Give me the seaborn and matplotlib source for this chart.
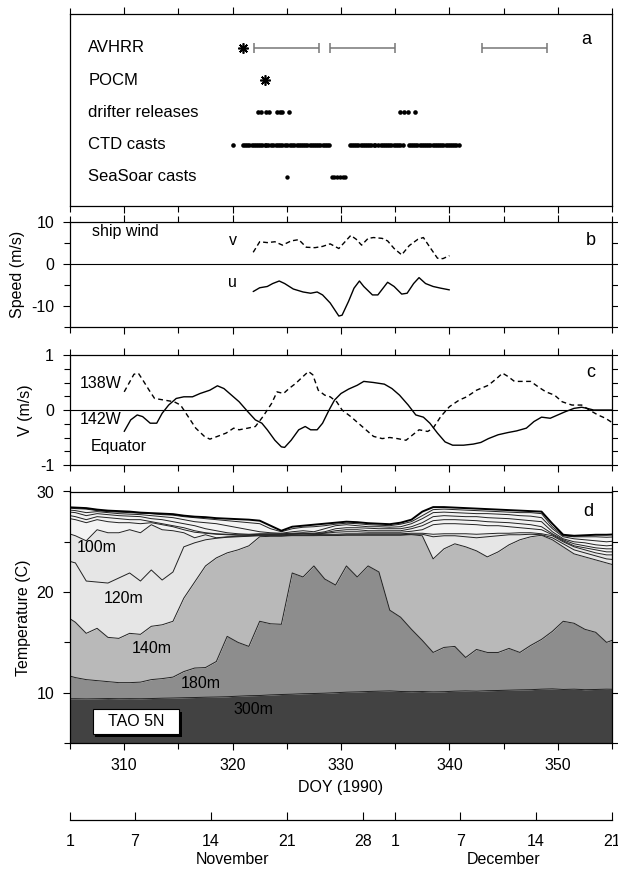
import numpy as np
import matplotlib
matplotlib.use("Agg")
import matplotlib.pyplot as plt
import seaborn as sns
from matplotlib.patches import Rectangle
from matplotlib.ticker import MultipleLocator, FixedLocator

sns.set_theme(style="ticks")
plt.rcParams['font.family'] = ['Liberation Sans', 'DejaVu Sans']
plt.rcParams['font.size'] = 11.5
plt.rcParams['axes.unicode_minus'] = False
for key in ("text.color", "axes.labelcolor", "xtick.color", "ytick.color",
            "xtick.labelcolor", "ytick.labelcolor", "axes.edgecolor"):
    plt.rcParams[key] = "black"

# ---------------- panel a: observation timeline ----------------
rows = ["AVHRR", "POCM", "drifter releases", "CTD casts", "SeaSoar casts"]
avhrr_star = [321.0]
avhrr_start = [322.0, 329.0, 343.0]
avhrr_end = [328.0, 335.0, 349.0]
pocm_star = [323.0]
drifter_doy = [322.3, 322.6, 323.1, 323.35, 324.1, 324.35, 324.6, 325.2,
               335.45, 335.8, 336.15, 336.85]
ctd_doy = [320.0,
           320.95, 321.15, 321.35, 321.55, 321.75, 321.95, 322.15, 322.35, 322.55, 322.75, 322.96,
           323.1, 323.3, 323.5, 323.7,
           324.0, 324.2, 324.4, 324.6, 324.8, 325.05,
           325.3, 325.5, 325.7, 325.9, 326.1, 326.3, 326.5, 326.7, 326.9, 327.1, 327.3, 327.5,
           327.7, 327.9, 328.1, 328.3, 328.5, 328.7, 328.9,
           330.8, 331.0, 331.2, 331.4, 331.6, 331.8, 332.0, 332.2, 332.4, 332.6, 332.8, 333.0, 333.15,
           333.45, 333.65, 333.85, 334.05, 334.25, 334.45, 334.65, 334.85, 335.05, 335.25, 335.45, 335.75,
           336.25, 336.45, 336.65, 336.85, 337.05, 337.25, 337.45, 337.65, 337.85, 338.05, 338.25,
           338.45, 338.65, 338.85, 339.05, 339.25, 339.45, 339.65, 339.85, 340.05, 340.25, 340.45,
           340.65, 340.85]
seasoar_doy = [325.0, 329.15, 329.4, 329.65, 329.9, 330.15, 330.4]

# ---------------- panel b: ship wind ----------------
v_doy = [321.9, 322.5, 323.2, 323.9, 324.6, 325.4, 326.1, 326.8, 327.6, 328.3, 329.0, 329.8,
         330.3, 330.9, 331.4, 331.9, 332.5, 333.0, 333.8, 334.3, 334.9, 335.6, 336.3, 337.1,
         337.6, 338.2, 338.9, 339.4, 340.0]
v_speed = [2.7, 5.2, 5.0, 5.2, 4.4, 5.4, 5.7, 3.9, 3.8, 4.1, 4.7, 3.6, 5.0, 6.7, 5.8, 4.4,
           6.0, 6.2, 6.0, 5.4, 3.6, 2.1, 4.3, 5.8, 6.2, 3.9, 1.3, 1.2, 1.9]
u_doy = [321.9, 322.5, 323.2, 323.7, 324.3, 324.8, 325.6, 326.5, 327.2, 327.8, 328.3, 329.0,
         329.8, 330.1, 330.7, 331.2, 331.7, 332.1, 332.9, 333.4, 334.0, 334.3, 334.9, 335.6,
         336.1, 336.7, 337.2, 337.8, 338.5, 339.2, 340.0]
u_speed = [-6.6, -5.7, -5.4, -4.7, -4.1, -4.7, -6.0, -6.7, -7.0, -6.7, -7.4, -9.3, -12.4,
           -12.2, -8.9, -5.8, -4.1, -5.4, -7.4, -7.4, -5.4, -4.4, -5.4, -7.2, -7.0, -4.7,
           -3.3, -4.7, -5.4, -5.8, -6.2]

# ---------------- panel c: equatorial meridional velocity ----------------
c138_doy = [310.0, 310.9, 311.3, 311.7, 312.3, 312.8, 313.7, 314.6, 315.2, 315.9,
            316.6, 317.4, 317.9, 318.6, 319.4, 320.1, 320.6, 321.4, 322.1, 322.8,
            323.6, 324.1, 324.7, 325.2, 325.8, 326.5, 327.0, 327.4, 327.9, 328.5,
            329.0, 329.6, 330.1, 330.9, 331.6, 332.3, 333.0, 333.8, 334.5, 335.2,
            336.0, 336.5, 337.2, 338.0, 338.5, 339.2, 340.0, 340.9, 341.6, 342.5,
            343.6, 344.4, 344.9, 345.4, 346.0, 346.9, 347.5, 348.2, 348.9, 349.7,
            350.4, 351.3, 352.2, 352.9, 353.7, 354.4, 355.1]
c138_v = [0.33, 0.65, 0.67, 0.55, 0.36, 0.21, 0.18, 0.15, 0.09, -0.12,
          -0.33, -0.48, -0.53, -0.48, -0.42, -0.33, -0.36, -0.33, -0.30, -0.12,
          0.12, 0.33, 0.30, 0.39, 0.48, 0.61, 0.70, 0.64, 0.36, 0.27,
          0.24, 0.15, 0.0, -0.12, -0.24, -0.36, -0.48, -0.52, -0.50, -0.52,
          -0.55, -0.47, -0.36, -0.39, -0.33, -0.12, 0.06, 0.18, 0.24, 0.36,
          0.45, 0.58, 0.67, 0.61, 0.52, 0.52, 0.52, 0.42, 0.33, 0.27,
          0.15, 0.09, 0.09, 0.0, -0.09, -0.15, -0.24]
c142_doy = [310.0, 310.6, 311.2, 311.7, 312.4, 313.0, 313.5, 314.1, 314.8, 315.5,
            316.3, 317.0, 317.9, 318.6, 319.2, 319.9, 320.6, 321.4, 322.1, 322.7,
            323.2, 323.9, 324.5, 324.8, 325.4, 326.1, 326.7, 327.2, 327.8, 328.3,
            328.9, 329.4, 330.0, 330.7, 331.5, 332.1, 333.0, 334.0, 334.7, 335.4,
            336.2, 336.9, 337.6, 338.2, 338.9, 339.6, 340.3, 341.3, 342.2, 342.9,
            343.6, 344.5, 345.4, 346.2, 347.1, 347.8, 348.5, 349.3, 350.0, 350.7,
            351.5, 352.2, 352.7, 353.3, 354.2, 355.1]
c142_v = [-0.39, -0.18, -0.09, -0.12, -0.24, -0.24, -0.06, 0.09, 0.21, 0.24,
          0.24, 0.30, 0.36, 0.44, 0.39, 0.27, 0.15, -0.03, -0.18, -0.24,
          -0.36, -0.55, -0.67, -0.68, -0.55, -0.36, -0.30, -0.36, -0.36, -0.24,
          0.0, 0.18, 0.30, 0.38, 0.45, 0.52, 0.50, 0.47, 0.39, 0.27,
          0.09, -0.09, -0.13, -0.24, -0.42, -0.58, -0.64, -0.64, -0.62, -0.59,
          -0.52, -0.45, -0.41, -0.38, -0.33, -0.21, -0.13, -0.15, -0.09, -0.03,
          0.03, 0.05, 0.03, 0.0, 0.0, 0.0]

# ---------------- panel d: TAO 5N daily temperatures ----------------
tao_doy = np.arange(304.5, 356.0, 1.0)   # daily means, centred at noon
t001 = [28.45, 28.40, 28.35, 28.20, 28.10, 28.05, 28.00, 27.90, 27.85, 27.80, 27.75,
        27.60, 27.50, 27.45, 27.35, 27.30, 27.25, 27.20, 27.10, 26.60, 26.10,
        26.50, 26.60, 26.70, 26.80, 26.90, 27.00, 26.95, 26.85, 26.80, 26.75,
        26.90, 27.20, 28.00, 28.45, 28.45, 28.40, 28.35, 28.30, 28.25, 28.20,
        28.15, 28.10, 28.05, 28.00, 26.80, 25.70, 25.60, 25.65, 25.70, 25.70, 25.75]
t010 = [28.40, 28.30, 28.25, 28.10, 28.00, 27.95, 27.90, 27.85, 27.80, 27.70, 27.65,
        27.50, 27.40, 27.30, 27.20, 27.10, 27.00, 26.90, 26.80, 26.30, 26.00,
        26.30, 26.45, 26.50, 26.60, 26.75, 26.85, 26.80, 26.70, 26.65, 26.60,
        26.75, 27.00, 27.60, 28.20, 28.25, 28.20, 28.15, 28.10, 28.05, 28.00,
        27.95, 27.90, 27.90, 27.80, 26.50, 25.60, 25.50, 25.50, 25.50, 25.45, 25.50]
t025 = [28.20, 28.10, 27.90, 28.00, 27.90, 27.80, 27.75, 27.70, 27.60, 27.50, 27.40,
        27.20, 27.00, 26.90, 26.80, 26.60, 26.40, 26.20, 26.00, 25.90, 25.85,
        26.00, 26.10, 26.00, 26.30, 26.60, 26.70, 26.60, 26.50, 26.50, 26.45,
        26.50, 26.80, 27.30, 27.90, 27.95, 27.90, 27.85, 27.80, 27.80, 27.75,
        27.70, 27.60, 27.55, 27.40, 26.30, 25.50, 25.30, 25.20, 25.10, 25.00, 25.10]
t045 = [28.00, 27.90, 27.60, 27.80, 27.70, 27.60, 27.55, 27.50, 27.30, 27.20, 27.00,
        26.80, 26.60, 26.30, 26.10, 25.90, 25.80, 25.75, 25.80, 25.80, 25.80,
        25.85, 25.90, 25.85, 26.00, 26.30, 26.40, 26.40, 26.35, 26.30, 26.30,
        26.30, 26.50, 26.90, 27.50, 27.60, 27.55, 27.50, 27.50, 27.40, 27.35,
        27.30, 27.20, 27.10, 27.00, 26.00, 25.30, 25.00, 24.90, 24.70, 24.60, 24.70]
t060 = [27.70, 27.50, 27.20, 27.50, 27.40, 27.30, 27.20, 27.20, 27.00, 26.80, 26.60,
        26.40, 26.10, 25.90, 25.80, 25.75, 25.70, 25.70, 25.75, 25.75, 25.75,
        25.80, 25.85, 25.80, 25.90, 26.10, 26.20, 26.20, 26.10, 26.10, 26.10,
        26.10, 26.30, 26.60, 27.10, 27.20, 27.20, 27.15, 27.10, 27.00, 26.95,
        26.90, 26.80, 26.70, 26.50, 25.80, 25.20, 24.80, 24.60, 24.40, 24.30, 24.30]
t080 = [27.40, 27.20, 26.90, 27.20, 27.00, 26.90, 26.90, 26.80, 26.90, 26.70, 26.50,
        26.20, 25.95, 25.85, 25.75, 25.70, 25.65, 25.65, 25.70, 25.70, 25.70,
        25.75, 25.80, 25.75, 25.85, 25.95, 26.00, 26.00, 25.95, 25.95, 25.95,
        25.95, 26.05, 26.20, 26.70, 26.80, 26.80, 26.75, 26.70, 26.60, 26.60,
        26.50, 26.40, 26.30, 26.20, 25.70, 25.10, 24.60, 24.40, 24.20, 24.00, 24.00]
t100 = [25.95, 25.60, 25.10, 26.20, 25.90, 25.90, 26.20, 25.90, 26.70, 26.20, 26.10,
        25.90, 25.40, 25.70, 25.40, 25.50, 25.55, 25.60, 25.65, 25.65, 25.65,
        25.70, 25.70, 25.70, 25.75, 25.75, 25.80, 25.80, 25.80, 25.80, 25.80,
        25.80, 25.85, 25.85, 25.75, 25.80, 25.80, 25.80, 25.75, 25.80, 25.85,
        25.85, 25.90, 25.90, 25.80, 25.60, 25.00, 24.50, 24.20, 23.90, 23.70, 23.70]
t120 = [23.20, 22.90, 21.10, 21.00, 20.90, 21.40, 21.90, 21.10, 22.20, 21.20, 22.00,
        24.50, 24.90, 25.20, 25.35, 25.45, 25.50, 25.55, 25.60, 25.60, 25.60,
        25.65, 25.65, 25.65, 25.68, 25.68, 25.70, 25.70, 25.70, 25.70, 25.70,
        25.70, 25.75, 25.75, 25.50, 25.60, 25.60, 25.50, 25.40, 25.50, 25.60,
        25.70, 25.70, 25.75, 25.70, 25.40, 24.80, 24.20, 23.90, 23.60, 23.30, 23.20]
t140 = [17.70, 17.00, 15.90, 16.40, 15.50, 15.40, 15.90, 15.80, 16.60, 16.75, 17.10,
        19.40, 21.00, 22.60, 23.40, 23.90, 24.20, 24.60, 25.50, 25.55, 25.55,
        25.60, 25.60, 25.60, 25.62, 25.62, 25.65, 25.65, 25.65, 25.65, 25.65,
        25.65, 25.70, 25.60, 23.30, 24.30, 24.80, 24.50, 24.10, 23.50, 24.00,
        24.70, 25.20, 25.50, 25.65, 25.20, 24.50, 23.80, 23.50, 23.20, 22.90, 22.60]
t180 = [11.80, 11.50, 11.30, 11.20, 11.10, 11.00, 11.00, 11.05, 11.30, 11.40, 11.55,
        12.10, 12.45, 12.50, 13.10, 15.60, 15.00, 14.60, 17.10, 16.85, 16.80,
        21.90, 21.50, 22.60, 21.30, 20.70, 22.60, 21.50, 22.60, 22.00, 18.20,
        17.50, 16.30, 15.20, 14.00, 14.50, 14.60, 13.50, 14.30, 14.00, 14.00,
        14.40, 14.00, 14.70, 15.30, 16.10, 17.10, 16.90, 16.30, 16.00, 15.00, 15.40]
t300 = [9.40, 9.40, 9.38, 9.40, 9.42, 9.40, 9.41, 9.40, 9.42, 9.45, 9.47,
        9.50, 9.52, 9.55, 9.57, 9.60, 9.65, 9.70, 9.72, 9.78, 9.82,
        9.85, 9.90, 9.92, 9.95, 10.00, 10.05, 10.08, 10.12, 10.15, 10.18,
        10.12, 10.10, 10.12, 10.08, 10.10, 10.15, 10.18, 10.15, 10.20, 10.22,
        10.25, 10.28, 10.30, 10.35, 10.38, 10.32, 10.35, 10.30, 10.32, 10.35, 10.33]

depth_labels = ["100m", "120m", "140m", "180m", "300m"]

# calendar axis
date_doy = [305, 311, 318, 325, 332, 335, 341, 348, 355]
date_lab = ["1", "7", "14", "21", "28", "1", "7", "14", "21"]

# ---------------- figure ----------------
W, H = 618, 869
fig = plt.figure(figsize=(W / 100, H / 100), dpi=100)
fig.patch.set_facecolor("white")
L, Wd = 70 / W, 542 / W


def box(top, bottom):
    return [L, 1 - bottom / H, Wd, (bottom - top) / H]


ax_a = fig.add_axes(box(14, 206))
ax_b = fig.add_axes(box(221.5, 327))
ax_c = fig.add_axes(box(355, 465))
ax_d = fig.add_axes(box(491.5, 743))

for ax in (ax_a, ax_b, ax_c, ax_d):
    ax.set_facecolor("white")
    ax.set_xlim(305, 355)
    for s in ax.spines.values():
        s.set_visible(True)
        s.set_color("black")
        s.set_linewidth(0.9)
    ax.xaxis.set_major_locator(MultipleLocator(10))
    ax.xaxis.set_minor_locator(MultipleLocator(5))
    ax.tick_params(which="both", direction="out", top=True, right=True,
                   width=0.8, colors="black", labelsize=11.5)
    ax.tick_params(which="major", length=5)
    ax.tick_params(which="minor", length=4)
    ax.tick_params(axis="y", which="major", pad=6.5)
    ax.tick_params(axis="x", which="major", pad=6)
    ax.grid(False)

for ax in (ax_a, ax_b, ax_c):
    ax.tick_params(labelbottom=False)

# ---- a ----
ax_a.set_ylim(0.1, 6.05)
ax_a.tick_params(axis="y", which="both", left=False, right=False, labelleft=False)
yrow = {r: 5 - i for i, r in enumerate(rows)}
for r in rows:
    ax_a.text(306.7, yrow[r], r, ha="left", va="center", fontsize=12, color="black")
ax_a.hlines([yrow["AVHRR"]] * 3, avhrr_start, avhrr_end, color="#777777", lw=1.1)
ax_a.plot(avhrr_start + avhrr_end, [yrow["AVHRR"]] * 6, ls="none", marker="|",
          ms=7, mew=1.1, color="#777777")
ax_a.plot(avhrr_star, [yrow["AVHRR"]], ls="none", marker=(8, 2, 0), ms=7.5, mew=1.2, color="black")
ax_a.plot(pocm_star, [yrow["POCM"]], ls="none", marker=(8, 2, 0), ms=7.5, mew=1.2, color="black")
sns.scatterplot(x=drifter_doy, y=[yrow["drifter releases"]] * len(drifter_doy), ax=ax_a,
                color="black", s=11, linewidth=0, marker="o")
sns.scatterplot(x=ctd_doy, y=[yrow["CTD casts"]] * len(ctd_doy), ax=ax_a,
                color="black", s=11, linewidth=0, marker="o")
sns.scatterplot(x=seasoar_doy, y=[yrow["SeaSoar casts"]] * len(seasoar_doy), ax=ax_a,
                color="black", s=10, linewidth=0, marker="o")
ax_a.text(352.6, 5.25, "a", ha="center", va="center", fontsize=13)

# ---- b ----
ax_b.set_ylim(-15, 10)
ax_b.yaxis.set_major_locator(FixedLocator([-10, 0, 10]))
ax_b.yaxis.set_minor_locator(MultipleLocator(5))
ax_b.axhline(0, color="black", lw=0.8)
sns.lineplot(x=v_doy, y=v_speed, ax=ax_b, color="black", lw=1.0,
             linestyle=(0, (3.5, 2.2)), errorbar=None)
sns.lineplot(x=u_doy, y=u_speed, ax=ax_b, color="black", lw=1.0, errorbar=None)
ax_b.text(307.0, 7.6, "ship wind", ha="left", va="center", fontsize=11.5)
ax_b.text(320.0, 5.6, "v", ha="center", va="center", fontsize=11.5)
ax_b.text(320.0, -4.4, "u", ha="center", va="center", fontsize=11.5)
ax_b.text(353.0, 5.6, "b", ha="center", va="center", fontsize=13)
ax_b.set_ylabel("Speed (m/s)", fontsize=11.5)
ax_b.yaxis.set_label_coords((25 - 70) / 542, 0.5)

# ---- c ----
ax_c.set_ylim(-1, 1)
ax_c.yaxis.set_major_locator(FixedLocator([-1, 0, 1]))
ax_c.yaxis.set_minor_locator(MultipleLocator(0.25))
ax_c.set_yticklabels(["-1", "0", "1"])
ax_c.axhline(0, color="black", lw=0.8)
sns.lineplot(x=c138_doy, y=c138_v, ax=ax_c, color="black", lw=1.0,
             linestyle=(0, (3.5, 2.5)), errorbar=None)
sns.lineplot(x=c142_doy, y=c142_v, ax=ax_c, color="black", lw=1.0, errorbar=None)
ax_c.text(305.9, 0.48, "138W", ha="left", va="center", fontsize=11.5)
ax_c.text(305.9, -0.18, "142W", ha="left", va="center", fontsize=11.5)
ax_c.text(306.9, -0.66, "Equator", ha="left", va="center", fontsize=11.5)
ax_c.text(353.0, 0.68, "c", ha="center", va="center", fontsize=13)
ax_c.set_ylabel("V (m/s)", fontsize=11.5)
ax_c.yaxis.set_label_coords((33 - 70) / 542, 0.5)

# ---- d ----
ax_d.set_ylim(5, 30)
ax_d.yaxis.set_major_locator(FixedLocator([10, 20, 30]))
ax_d.yaxis.set_minor_locator(MultipleLocator(5))
floor = np.full(len(tao_doy), 5.0)
bands = [(floor, t300, "#424242"), (t300, t180, "#8d8d8d"), (t180, t140, "#b9b9b9"),
         (t140, t100, "#e6e6e6"), (t100, t001, "#f3f3f3")]
for lo, hi, col in bands:
    ax_d.fill_between(tao_doy, lo, hi, color=col, lw=0, zorder=1)
for series in (t300, t180, t140, t120, t100, t080, t060, t045, t025, t010):
    sns.lineplot(x=tao_doy, y=series, ax=ax_d, color="#222222", lw=0.7, errorbar=None, zorder=2)
sns.lineplot(x=tao_doy, y=t001, ax=ax_d, color="black", lw=1.4, errorbar=None, zorder=3)
ax_d.text(305.6, 24.4, depth_labels[0], ha="left", va="center", fontsize=11.5, zorder=4)
ax_d.text(308.1, 19.4, depth_labels[1], ha="left", va="center", fontsize=11.5, zorder=4)
ax_d.text(310.7, 14.4, depth_labels[2], ha="left", va="center", fontsize=11.5, zorder=4)
ax_d.text(315.2, 10.9, depth_labels[3], ha="left", va="center", fontsize=11.5, zorder=4)
ax_d.text(320.1, 8.3, depth_labels[4], ha="left", va="center", fontsize=11.5, zorder=4)
ax_d.text(352.8, 28.0, "d", ha="center", va="center", fontsize=13)
# label box with a drop shadow
ax_d.add_patch(Rectangle((307.35, 5.6), 8.0, 2.5, facecolor="black", edgecolor="none", zorder=5))
ax_d.add_patch(Rectangle((307.1, 5.9), 8.0, 2.5, facecolor="white", edgecolor="black",
                         lw=0.8, zorder=6))
ax_d.text(311.1, 7.15, "TAO 5N", ha="center", va="center", fontsize=11.5, zorder=7)
ax_d.set_ylabel("Temperature (C)", fontsize=11.5)
ax_d.yaxis.set_label_coords((31 - 70) / 542, 0.5)
ax_d.set_xlabel("DOY (1990)", fontsize=11.5, labelpad=5)
ax_d.xaxis.set_major_formatter(plt.FuncFormatter(lambda v, p: f"{v:.0f}"))

# ---- calendar axis ----
ax_m = fig.add_axes([L, 1 - 820 / H, Wd, 1e-5])
ax_m.set_xlim(305, 355)
ax_m.set_yticks([])
for side in ("top", "left", "right"):
    ax_m.spines[side].set_visible(False)
ax_m.spines["bottom"].set_linewidth(0.9)
ax_m.spines["bottom"].set_color("black")
ax_m.set_xticks(date_doy)
ax_m.set_xticklabels(date_lab)
ax_m.tick_params(axis="x", direction="in", length=6, width=0.8, pad=10, labelsize=11.5, colors="black")
fig.text((70 + 15 * 10.84) / W, 1 - 859 / H, "November", ha="center", va="center", fontsize=11.5)
fig.text((70 + 40 * 10.84) / W, 1 - 859 / H, "December", ha="center", va="center", fontsize=11.5)

fig.savefig("out.png", dpi=100, facecolor="white")
